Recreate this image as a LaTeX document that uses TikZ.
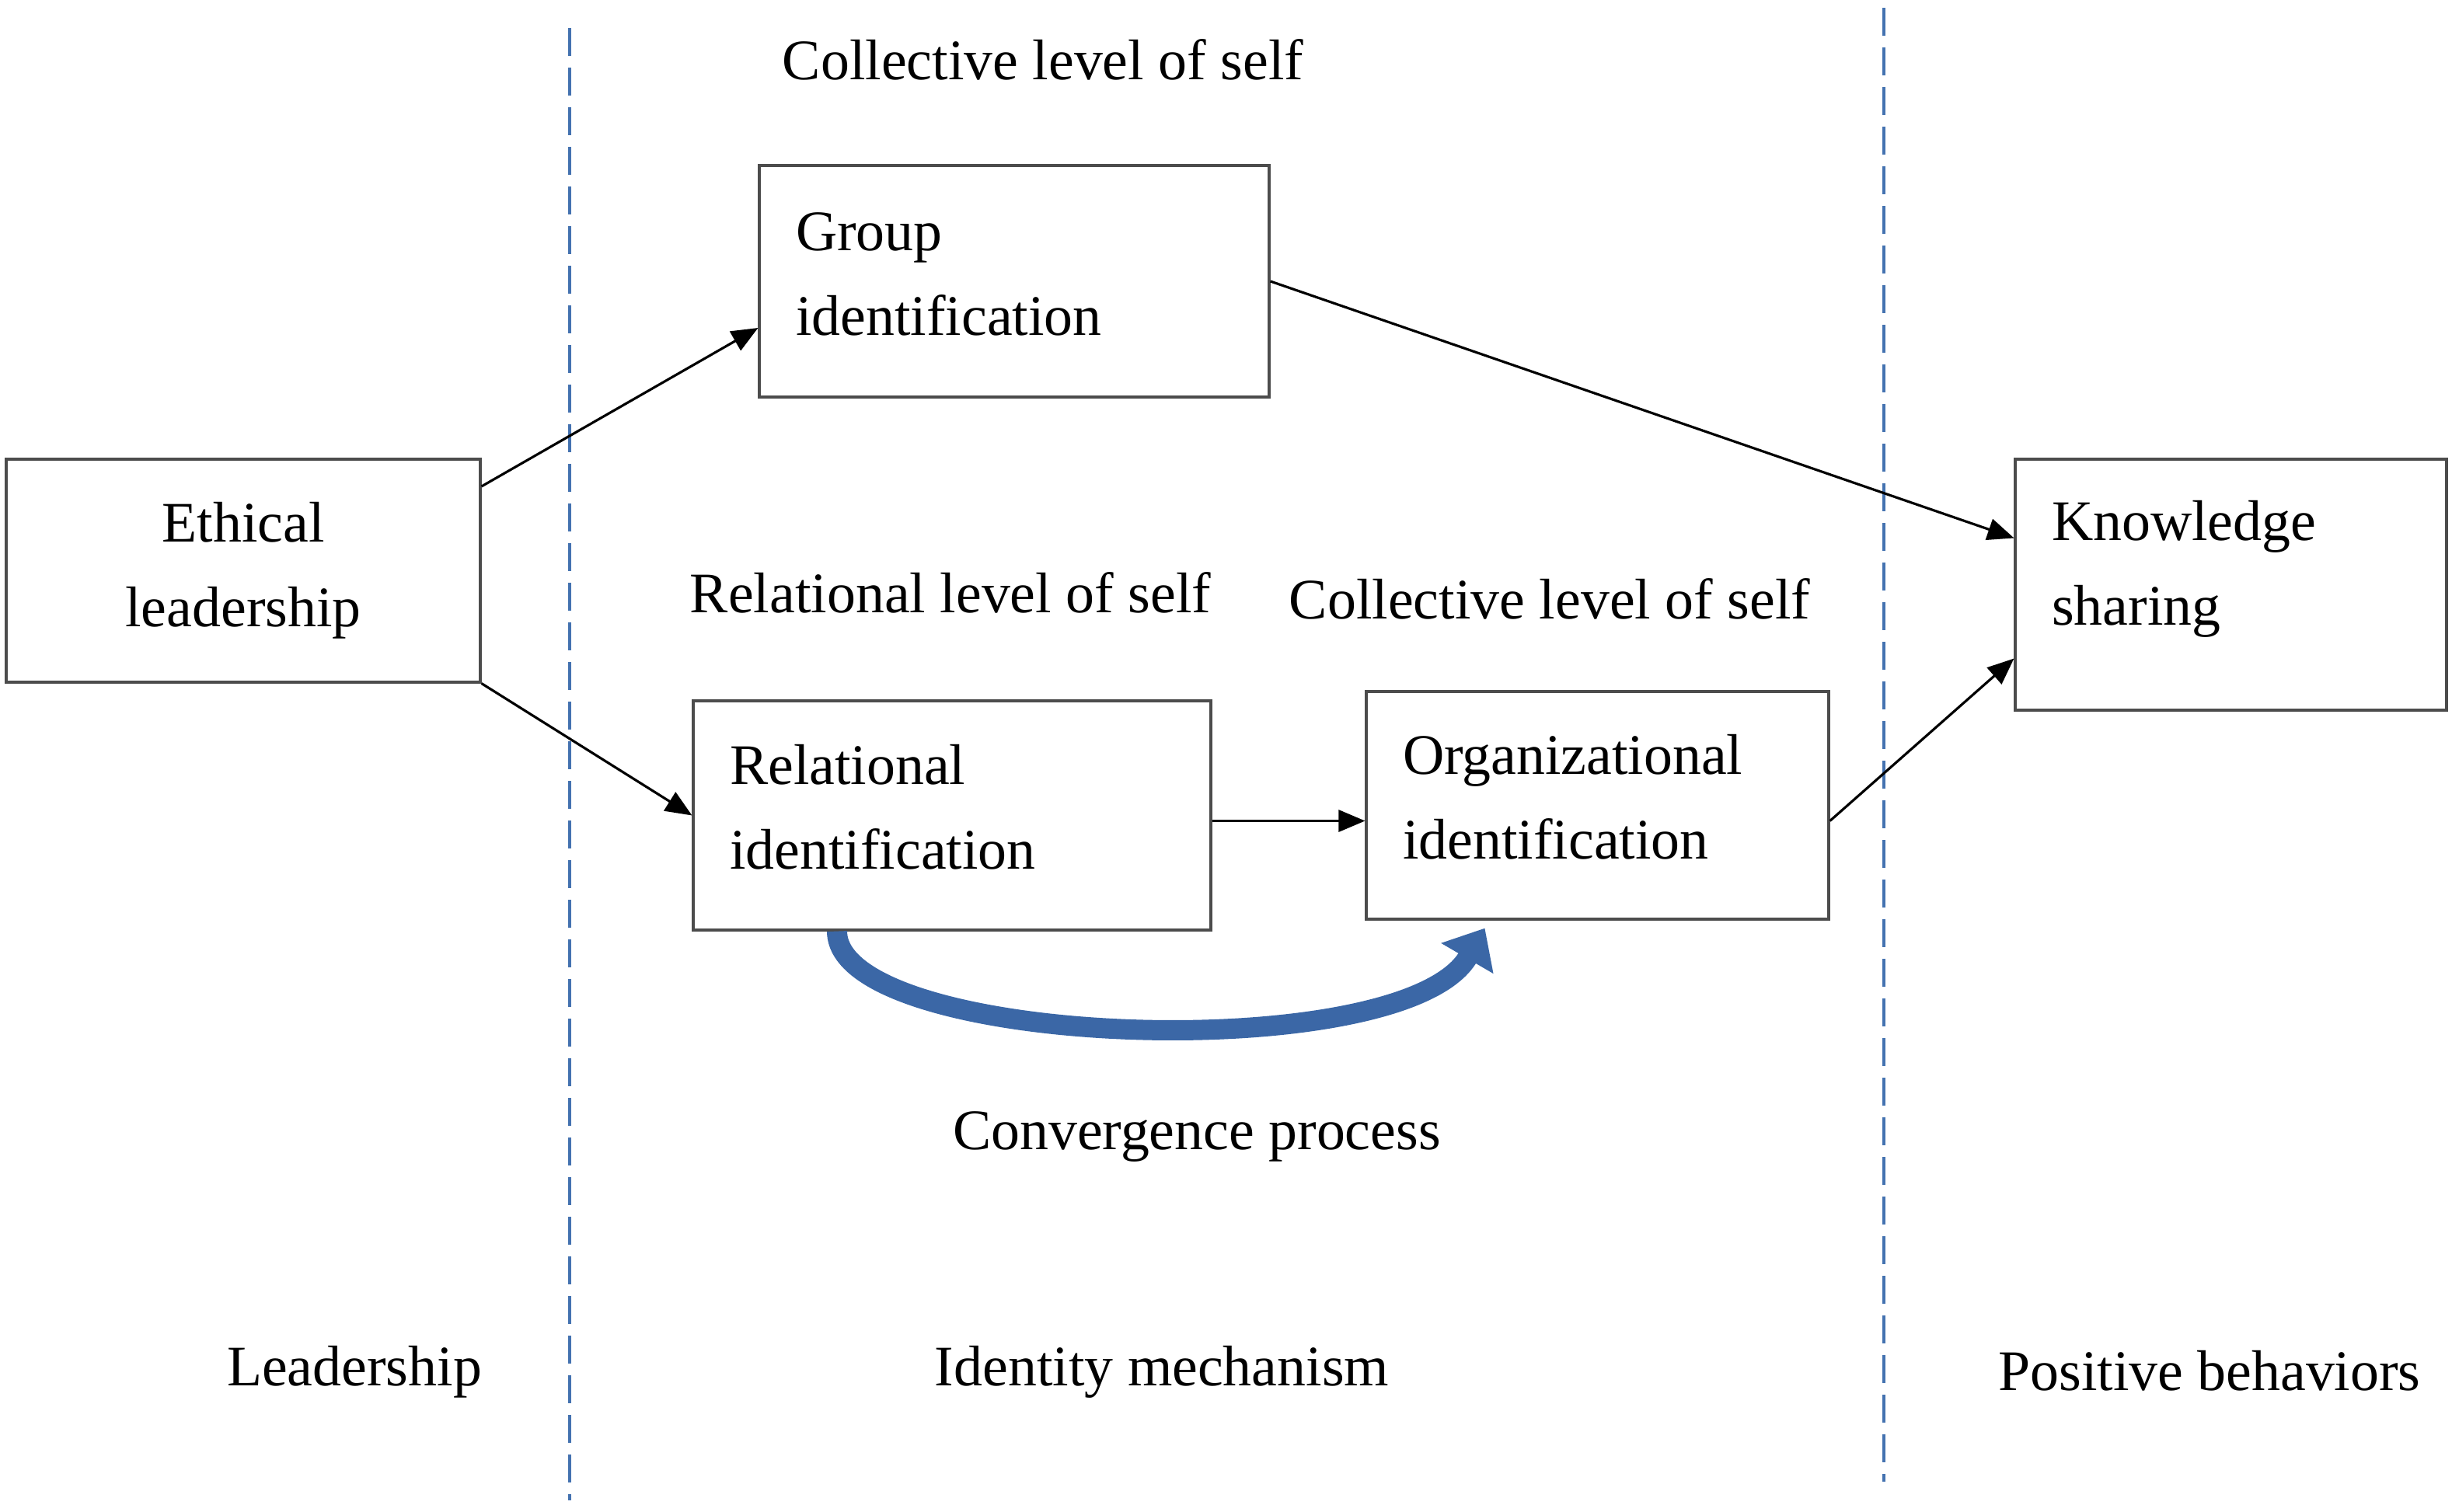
\documentclass[tikz,border=0pt]{standalone}
\usepackage{fontspec}
\setmainfont{Liberation Serif}
\usetikzlibrary{arrows.meta}
\definecolor{divblue}{RGB}{68,114,176}
\definecolor{convblue}{RGB}{59,103,166}
\tikzset{
  idbox/.style={draw=black!70, line width=0.9pt, inner xsep=0.47cm, align=left, text height=0.3cm},
  link/.style={-{Triangle[length=0.34cm,width=0.28cm]}, line width=0.9pt},
  divider/.style={divblue, line width=0.9pt, dash pattern=on 0.36cm off 0.15cm},
}

\begin{document}
\begin{tikzpicture}[font=\fontsize{21}{31}\selectfont]
    \useasboundingbox (0,0) rectangle (31.64,-19.46);
    \draw[divider] (7.33,-0.36) -- (7.33,-19.31);
    \draw[divider] (24.24,-0.10) -- (24.24,-19.07);

    \node[draw=black!70, line width=0.9pt, align=center, minimum width=6.10cm, minimum height=2.87cm] (ethical) at (3.13,-7.345) {Ethical\\leadership};
    \node[idbox, text width=5.62cm, minimum height=2.98cm] (group) at (13.05,-3.62) {Group\\identification};
    \node[idbox, text width=5.72cm, minimum height=2.95cm] (relational) at (12.25,-10.495) {Relational\\identification};
    \node[idbox, text width=5.01cm, minimum height=2.93cm] (organizational) at (20.555,-10.365) {Organizational\\identification};
    \node[idbox, text width=4.61cm, text height=0.1cm, minimum height=3.23cm] (knowledge) at (28.705,-7.525) {Knowledge\\sharing};

    \draw[link] ([yshift=1.085cm]ethical.east) -- ([yshift=-0.6cm]group.west);
    \draw[link] (ethical.south east) -- (relational.west);
    \draw[link] (group.east) -- ([yshift=0.6cm]knowledge.west);
    \draw[link] ([yshift=-0.07cm]relational.east) -- ([yshift=-0.07cm]relational.east -| organizational.west);
    \draw[link] ([yshift=-0.2cm]organizational.east) -- ([yshift=-0.95cm]knowledge.west);
    \draw[convblue, line width=0.26cm, -{Triangle[length=0.45cm,width=0.75cm]}]
        ([xshift=-1.48cm]relational.south) .. controls +(0,-1.5) and +(-1.05,-1.8) .. ([xshift=-1.45cm,yshift=-0.1cm]organizational.south);

    \node (collectivetop) at (13.42,-0.77) {Collective level of self};
    \node (relationallevel) at (12.23,-7.63) {Relational level of self};
    \node (collectivemid) at (19.94,-7.71) {Collective level of self};
    \node (convergence) at (15.40,-14.63) {Convergence process};
    \node (leadership) at (4.56,-17.66) {Leadership};
    \node (mechanism) at (14.95,-17.66) {Identity mechanism};
    \node (behaviors) at (28.43,-17.64) {Positive behaviors};
\end{tikzpicture}
\end{document}
